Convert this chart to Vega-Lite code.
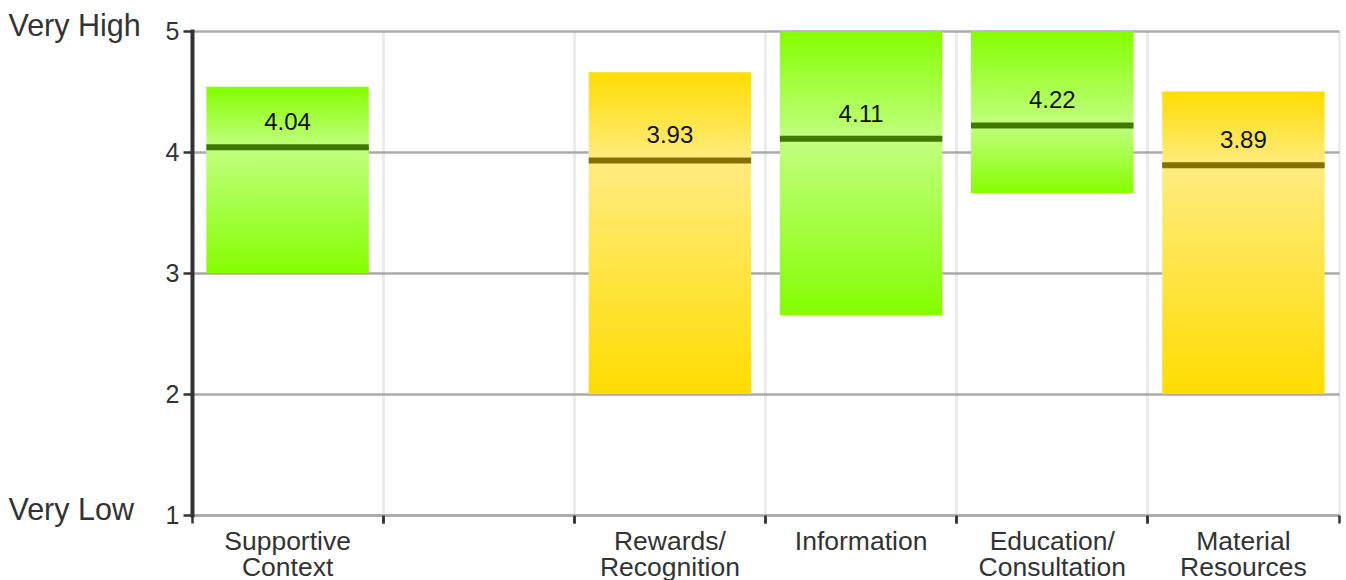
{
  "$schema": "https://vega.github.io/schema/vega-lite/v6.json",
  "width": 1147,
  "height": 484,
  "autosize": {"type": "none"},
  "padding": {"left": 192, "top": 31, "right": 7, "bottom": 65},
  "background": "#ffffff",
  "config": {
    "view": {"stroke": null},
    "font": "Liberation Sans",
    "axis": {"labelFont": "Liberation Sans", "titleFont": "Liberation Sans"}
  },
  "data": {
    "values": [
      {"category": "Supportive Context", "low": 3.0, "high": 4.54, "mean": 4.04},
      {"category": "Rewards/Recognition", "low": 2.0, "high": 4.66, "mean": 3.93},
      {"category": "Information", "low": 2.65, "high": 5.0, "mean": 4.11},
      {"category": "Education/Consultation", "low": 3.66, "high": 5.0, "mean": 4.22},
      {"category": "Material Resources", "low": 2.0, "high": 4.5, "mean": 3.89}
    ]
  },
  "layer": [
    {
      "transform": [{"filter": "datum.mean >= 4"}],
      "mark": {
        "type": "bar",
        "width": {"band": 0.85},
        "color": {
          "gradient": "linear", "x1": 0, "y1": 0, "x2": 0, "y2": 1,
          "stops": [{"offset": 0, "color": "#84ff00"}, {"offset": 1, "color": "#c2ff80"}]
        }
      },
      "encoding": {
        "x": {
          "field": "category", "type": "nominal",
          "scale": {
            "domain": ["Supportive Context", "", "Rewards/Recognition", "Information", "Education/Consultation", "Material Resources"],
            "paddingInner": 0, "paddingOuter": 0
          },
          "axis": {
            "title": null, "orient": "bottom", "bandPosition": 0,
            "grid": true, "gridColor": "#ebebeb", "gridWidth": 2.5,
            "domain": true, "domainColor": "#aaaaaa", "domainWidth": 2.5,
            "ticks": true, "tickColor": "#333333", "tickWidth": 2.5, "tickSize": 8,
            "labelAngle": 0, "labelBaseline": "top",
            "labelExpr": "split(replace(datum.label, '/', '/ '), ' ')",
            "labelFontSize": 26.5, "labelLineHeight": 26.5, "labelColor": "#333333",
            "labelPadding": 5, "labelOverlap": false, "labelFlush": false
          }
        },
        "y": {
          "field": "mean", "type": "quantitative",
          "scale": {"domain": [1, 5], "nice": false, "zero": false},
          "axis": {
            "title": null, "values": [1, 2, 3, 4, 5], "format": "d",
            "grid": true, "gridColor": "#aaaaaa", "gridWidth": 2.5,
            "domain": true, "domainColor": "#333333", "domainWidth": 4, "domainCap": "square",
            "ticks": true, "tickColor": "#333333", "tickWidth": 2.5, "tickSize": 9,
            "labelFontSize": 25, "labelColor": "#333333", "labelPadding": 4
          }
        },
        "y2": {"field": "high"}
      }
    },
    {
      "transform": [{"filter": "datum.mean >= 4"}],
      "mark": {
        "type": "bar",
        "width": {"band": 0.85},
        "color": {
          "gradient": "linear", "x1": 0, "y1": 0, "x2": 0, "y2": 1,
          "stops": [{"offset": 0, "color": "#c2ff80"}, {"offset": 1, "color": "#84ff00"}]
        }
      },
      "encoding": {
        "x": {
          "field": "category", "type": "nominal",
          "axis": {
            "title": null, "orient": "bottom", "bandPosition": 1,
            "grid": true, "gridColor": "#ebebeb", "gridWidth": 2.5,
            "domain": false, "labels": false,
            "ticks": true, "tickColor": "#333333", "tickWidth": 2.5, "tickSize": 8
          }
        },
        "y": {
          "field": "low", "type": "quantitative",
          "axis": {
            "title": null, "values": [1, 5], "orient": "left",
            "grid": false, "domain": false, "ticks": false,
            "labelExpr": "datum.value == 5 ? 'Very High' : 'Very Low'",
            "labelAlign": "left", "labelPadding": 184, "labelOffset": -5,
            "labelFontSize": 30.5, "labelColor": "#333333"
          }
        },
        "y2": {"field": "mean"}
      }
    },
    {
      "transform": [{"filter": "datum.mean < 4"}],
      "mark": {
        "type": "bar",
        "width": {"band": 0.85},
        "color": {
          "gradient": "linear", "x1": 0, "y1": 0, "x2": 0, "y2": 1,
          "stops": [{"offset": 0, "color": "#ffdd00"}, {"offset": 1, "color": "#ffec80"}]
        }
      },
      "encoding": {
        "x": {"field": "category", "type": "nominal", "axis": null},
        "y": {"field": "mean", "type": "quantitative", "axis": null},
        "y2": {"field": "high"}
      }
    },
    {
      "transform": [{"filter": "datum.mean < 4"}],
      "mark": {
        "type": "bar",
        "width": {"band": 0.85},
        "color": {
          "gradient": "linear", "x1": 0, "y1": 0, "x2": 0, "y2": 1,
          "stops": [{"offset": 0, "color": "#ffec80"}, {"offset": 1, "color": "#ffdd00"}]
        }
      },
      "encoding": {
        "x": {"field": "category", "type": "nominal", "axis": null},
        "y": {"field": "low", "type": "quantitative", "axis": null},
        "y2": {"field": "mean"}
      }
    },
    {
      "mark": {"type": "tick", "orient": "horizontal", "size": 162.5, "thickness": 6, "opacity": 1},
      "encoding": {
        "x": {"field": "category", "type": "nominal", "axis": null},
        "y": {"field": "mean", "type": "quantitative", "axis": null},
        "color": {"condition": {"test": "datum.mean >= 4", "value": "#3f7a00"}, "value": "#857100"}
      }
    },
    {
      "mark": {"type": "text", "fontSize": 24, "color": "#111111", "baseline": "alphabetic", "align": "center", "dy": -17},
      "encoding": {
        "x": {"field": "category", "type": "nominal", "axis": null},
        "y": {"field": "mean", "type": "quantitative", "axis": null},
        "text": {"field": "mean", "type": "quantitative", "format": ".2f"}
      }
    }
  ],
  "resolve": {"axis": {"x": "independent", "y": "independent"}}
}
